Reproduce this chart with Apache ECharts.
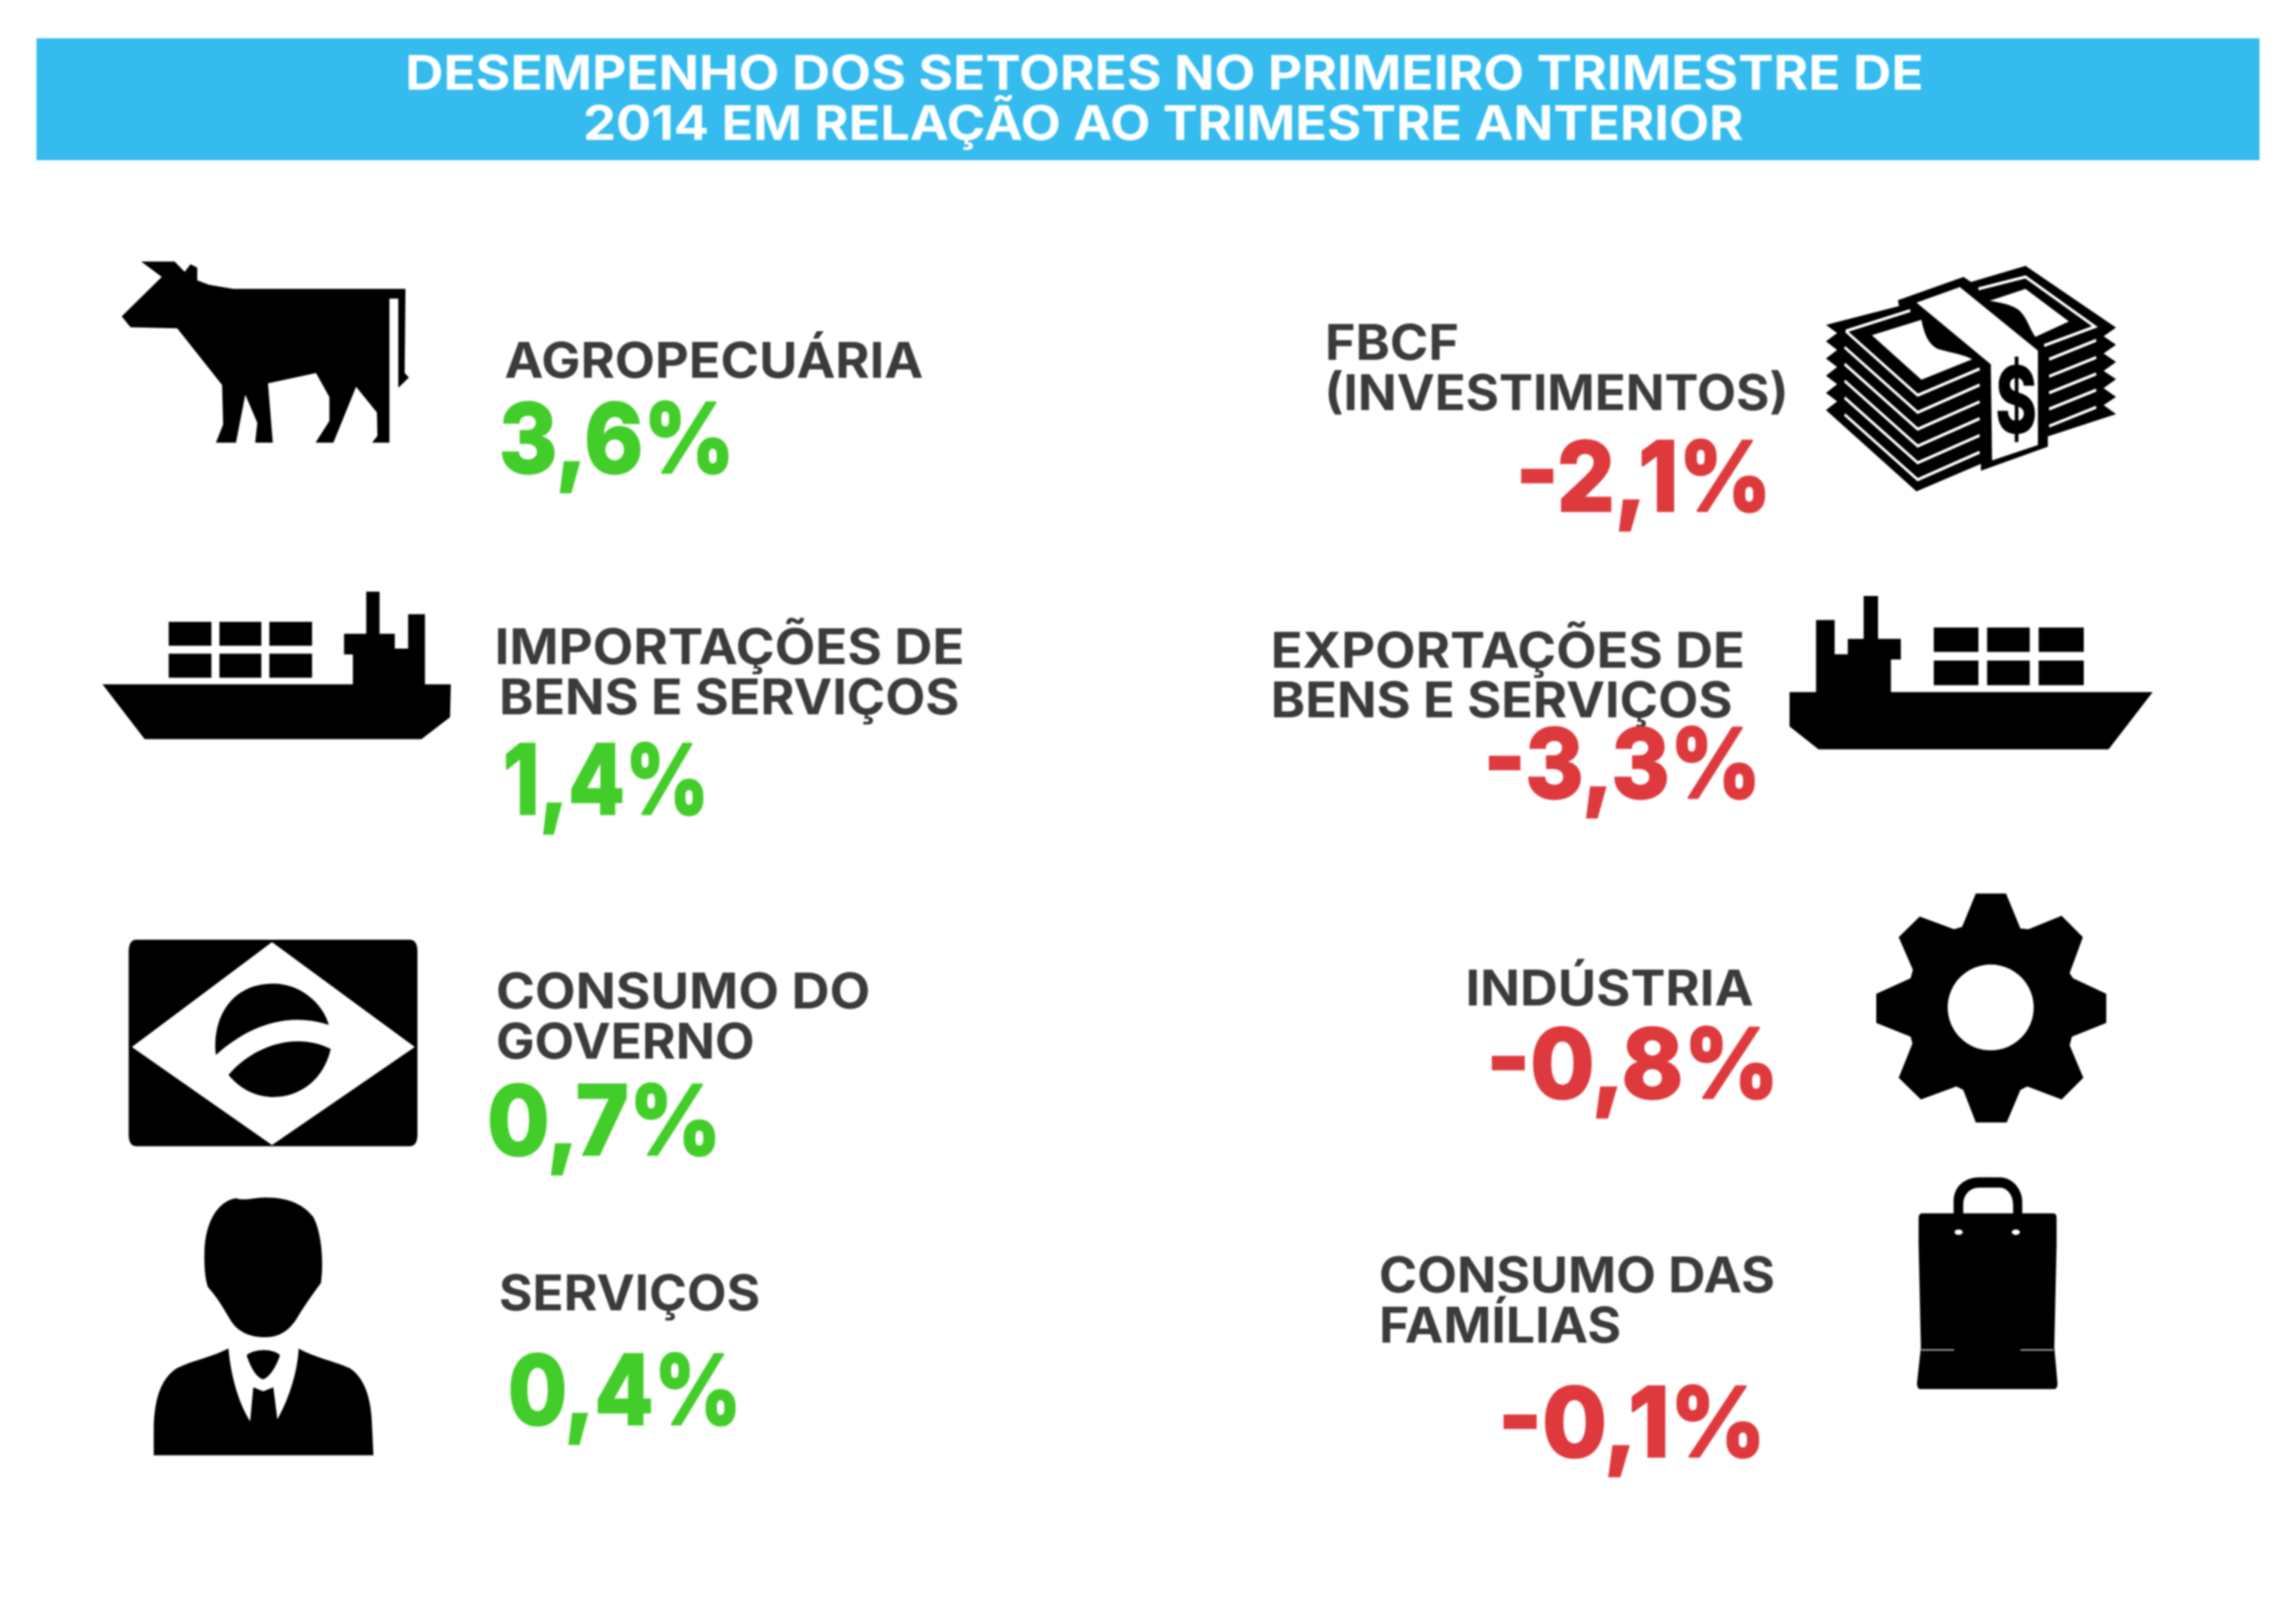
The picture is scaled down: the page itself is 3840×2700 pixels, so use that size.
<!DOCTYPE html>
<html><head><meta charset="utf-8">
<style>html,body{margin:0;padding:0;background:#fff}#c{width:3840px;height:2700px}#c canvas{filter:blur(1.5px)}</style>
<script src="https://cdn.jsdelivr.net/npm/echarts@6/dist/echarts.min.js"></script>
</head><body><div id="c"></div>
<script>
// ---- data ----
const titleLines = ['DESEMPENHO DOS SETORES NO PRIMEIRO TRIMESTRE DE', '2014 EM RELAÇÃO AO TRIMESTRE ANTERIOR'];
const sectors = [
  ['AGROPECUÁRIA'],
  ['IMPORTAÇÕES DE', 'BENS E SERVIÇOS'],
  ['CONSUMO DO', 'GOVERNO'],
  ['SERVIÇOS'],
  ['FBCF', '(INVESTIMENTOS)'],
  ['EXPORTAÇÕES DE', 'BENS E SERVIÇOS'],
  ['INDÚSTRIA'],
  ['CONSUMO DAS', 'FAMÍLIAS']
];
const changes = [3.6, 1.4, 0.7, 0.4, -2.1, -3.3, -0.8, -0.1];

// ---- layout (positions on the 1568-wide view of the picture) ----
const S = 3840 / 1568;
const labelBoxes = [
  [[345,630,258]],
  [[340,657,453.5],[343,654,488]],
  [[340,593,689],[340,514,723]],
  [[342,518,895]],
  [[907,995,246],[907,1219,280]],
  [[870,1190,456],[870,1182,490]],
  [[1003,1197,687]],
  [[943,1211,883],[944,1106,917]]
];
const valueBoxes = [
  [343,497,323],[346,480,556],[335,488,789],[349,502,973],
  [1039,1205,349],[1017,1198,545],[1019,1210,750],[1027,1201,995]
];

// ---- icons: each drawn in a local frame [originX, originY, scaleX, scaleY] ----
const frameA = [100, 380, 2.24, 1.742];
const frameB = [100, 1450, 2.24, 1.493];
const frameC = [3000, 400, 2.412, 1.742];
const frameD = [3050, 1450, 2.613, 1.742];
const K = '#000', W = '#fff';
const poly = a => 'M' + a.join('L') + 'Z';
const rect = (x0,y0,x1,y1) => `M${x0} ${y0}L${x1} ${y0}L${x1} ${y1}L${x0} ${y1}Z`;
const cow = poly(['305 100','430 100','468 130','490 108','515 118','515 155','560 168','650 180','1295 180','1292 425','1308 438','1268 468','1268 208','1235 208','1235 628','1170 628','1190 608','1188 540','1110 465','1025 628','958 628','1010 565','1010 495','960 425','780 455','798 628','732 628','740 570','695 488','660 628','585 628','612 575','608 460','440 295','265 292','232 260','382 145']);
const shipL = poly(['160 1332','1098 1332','1098 1245','1065 1245','1065 1185','1148 1185','1148 1062','1198 1062','1198 1185','1255 1185','1255 1228','1305 1228','1305 1128','1368 1128','1368 1332','1465 1332','1462 1428','1355 1492','318 1492'])
  + [[408,568],[598,755],[785,945]].map(c => rect(c[0],1150,c[1],1220) + rect(c[0],1243,c[1],1313)).join('');
const shipR = poly(['-17 1320','90 1320','90 1110','165 1110','165 1210','218 1210','218 1165','282 1165','282 1040','340 1040','340 1165','432 1165','432 1225','392 1225','392 1320','1448 1320','1270 1487','100 1487','-17 1420'])
  + [[565,745],[780,952],[988,1170]].map(c => rect(c[0],1132,c[1],1203) + rect(c[0],1228,c[1],1300)).join('');
const cash = poly(['130 250','175 274','130 298','175 323','130 348','175 373','130 398','175 423','130 448','175 473','130 498','495 735','755 655','755 675','1025 605','1025 575','1300 510','1250 484','1300 460','1250 434','1300 408','1250 384','1300 358','1250 333','1300 308','1250 283','1300 258','935 78','715 125','685 110','420 178','425 195']);
const cashBand = poly(['495 185','670 140','985 325','985 600','800 645','795 365']);
const cashBillL = 'M315 280L515 235C525 270 540 310 590 322C640 332 690 338 720 350L515 410Z';
const cashBillR = 'M790 180L935 145L1110 240L975 285C950 260 940 225 905 205C875 190 830 185 790 180Z';
const cashLines = 'M210 268L500 455L750 378M470 208L210 268M745 145L935 110L1215 255L1010 310'
  + [0,49,98,147,196].map(d => `M205 ${315+d}L500 ${505+d}L750 ${425+d}`).join('')
  + [0,50,98,145,195].map(d => `M1030 ${350+d}L1220 ${295+d}`).join('');
const flagBox = 'M288 182L1310 182Q1340 182 1340 212L1340 668Q1340 698 1310 698L288 698Q258 698 258 668L258 212Q258 182 288 182Z';
const flagDiamond = poly(['795 188','1330 450','795 695','270 450']);
const flagGlobe = 'M585 470C570 380 640 292 800 292C900 292 985 340 1008 395C850 360 700 400 585 470Z'
  + 'M632 520C720 450 880 410 1015 455C990 530 900 578 790 575C720 572 670 550 632 520Z';
const person = 'M660 828C590 835 545 890 542 960C540 1000 545 1030 555 1050C590 1075 615 1105 642 1135C672 1165 720 1175 770 1175C820 1175 858 1160 888 1128C918 1095 950 1065 978 1040C988 1000 985 920 950 875C915 845 860 826 770 826C730 826 690 835 660 828Z'
  + 'M352 1470L352 1400C355 1320 385 1275 440 1252C500 1232 570 1225 632 1203C640 1270 670 1340 713 1385L725 1300L762 1310L800 1300L815 1380C850 1340 890 1270 895 1203C950 1225 1030 1235 1085 1252C1140 1275 1168 1325 1170 1400L1175 1470Z'
  + 'M700 1220C730 1203 800 1203 825 1220C810 1250 785 1275 762 1280C735 1275 715 1250 700 1220Z';
const gear = poly(['665 78','797 78','860 180','895 182','1040 143','1133 205','1075 310','1090 325','1235 370','1235 455','1085 495','1075 520','1135 615','1040 678','890 640','860 650','800 745','665 745','610 650','580 640','425 678','328 615','388 515','380 495','230 455','230 370','380 325','390 300','328 205','420 145','570 182','605 175']);
const gearHole = 'M542 410A188 125 0 1 1 918 410A188 125 0 1 1 542 410Z';
const bag = 'M430 1010L1005 1010Q1018 1010 1018 1025L1018 1100L1008 1400L1022 1505Q1022 1522 1008 1522L422 1522Q408 1522 408 1505L425 1400L415 1100L415 1025Q415 1010 430 1010Z';
const bagHandle = 'M568 1012L568 975C568 930 620 905 680 905L770 905C825 905 868 940 868 975L868 1012L828 1012L828 985C828 955 800 935 770 935L680 935C640 935 610 955 610 985L610 1012Z';
const bagEyes = 'M572 1065A18 8 0 1 1 608 1065A18 8 0 1 1 572 1065ZM822 1065A18 8 0 1 1 858 1065A18 8 0 1 1 822 1065Z';
const bagSeams = 'M425 1408L570 1408M860 1408L1005 1408';

const icons = [
  [frameA, [{d:cow, fill:K}]],
  [frameA, [{d:shipL, fill:K}]],
  [frameB, [{d:flagBox, fill:K},{d:flagDiamond, fill:W},{d:flagGlobe, fill:K}]],
  [frameB, [{d:person, fill:K}]],
  [frameC, [{d:cash, fill:K},{d:cashLines, stroke:W, lw:9},{d:cashBillL, fill:W},{d:cashBillR, fill:W},{d:cashBand, fill:W}]],
  [frameC, [{d:shipR, fill:K}]],
  [frameD, [{d:gear, fill:K},{d:gearHole, fill:W}]],
  [frameD, [{d:bag, fill:K},{d:bagHandle, fill:K},{d:bagEyes, fill:W},{d:bagSeams, stroke:'#aaa', lw:4}]]
];

// ---- text helpers ----
const FONT = 'Inter, "Open Sans", sans-serif';
const ctx = document.createElement('canvas').getContext('2d');
function fitted(str, left, right, base, size, weight, fill, bold) {
  ctx.font = `${weight} ${size}px ${FONT}`;
  ctx.textBaseline = 'middle';
  const m = ctx.measureText(str);
  const ink = m.actualBoundingBoxLeft + m.actualBoundingBoxRight;
  const sx = (right - left) / ink;
  const h = ctx.measureText('H').actualBoundingBoxDescent;
  const style = { text: str, fontFamily: FONT, fontSize: size, fontWeight: weight, fill, align: 'left', verticalAlign: 'middle' };
  if (bold) { style.stroke = fill; style.lineWidth = bold; }
  return { type: 'text', x: left + m.actualBoundingBoxLeft * sx, y: base - h, scaleX: sx, style };
}
const fmt = v => v.toFixed(1).replace('.', ',') + '%';

function renderSector(params) {
  const i = params.dataIndex;
  const children = [];
  const [frame, layers] = icons[i];
  layers.forEach(l => children.push({
    type: 'path', x: frame[0], y: frame[1], scaleX: 1 / frame[2], scaleY: 1 / frame[3],
    shape: { pathData: l.d },
    style: { fill: l.fill || 'none', stroke: l.stroke || 'none', lineWidth: l.lw || 0 }
  }));
  if (i === 4) children.push({
    type: 'text', x: 3372, y: 678, scaleX: 0.68,
    style: { text: '$', fontFamily: FONT, fontSize: 156, fontWeight: 800, fill: K, align: 'center', verticalAlign: 'middle' }
  });
  sectors[i].forEach((line, k) => {
    const b = labelBoxes[i][k];
    children.push(fitted(line, b[0]*S, b[1]*S, b[2]*S, 82, 700, '#3b3b3b'));
  });
  const v = valueBoxes[i];
  children.push(fitted(fmt(changes[i]), v[0]*S, v[1]*S, v[2]*S, 162, 800, changes[i] >= 0 ? '#43cd2a' : '#de3a3e', 3));
  return { type: 'group', children };
}

const chart = echarts.init(document.getElementById('c'), null, { renderer: 'canvas', width: 3840, height: 2700 });
chart.setOption({
  backgroundColor: '#ffffff',
  animation: false,
  graphic: { elements: [
    { type: 'rect', shape: { x: 61, y: 64, width: 3718, height: 204 }, style: { fill: '#35bbee' }, z: 1 },
    Object.assign(fitted(titleLines[0], 279*S, 1312*S, 150, 80, 700, '#ffffff'), { z: 2 }),
    Object.assign(fitted(titleLines[1], 400*S, 1190*S, 234, 80, 700, '#ffffff'), { z: 2 })
  ]},
  series: [{
    type: 'custom',
    coordinateSystem: 'none',
    silent: true,
    data: changes.map((v, i) => ({ name: sectors[i].join(' '), value: [i, v] })),
    renderItem: renderSector
  }]
});
</script></body></html>
